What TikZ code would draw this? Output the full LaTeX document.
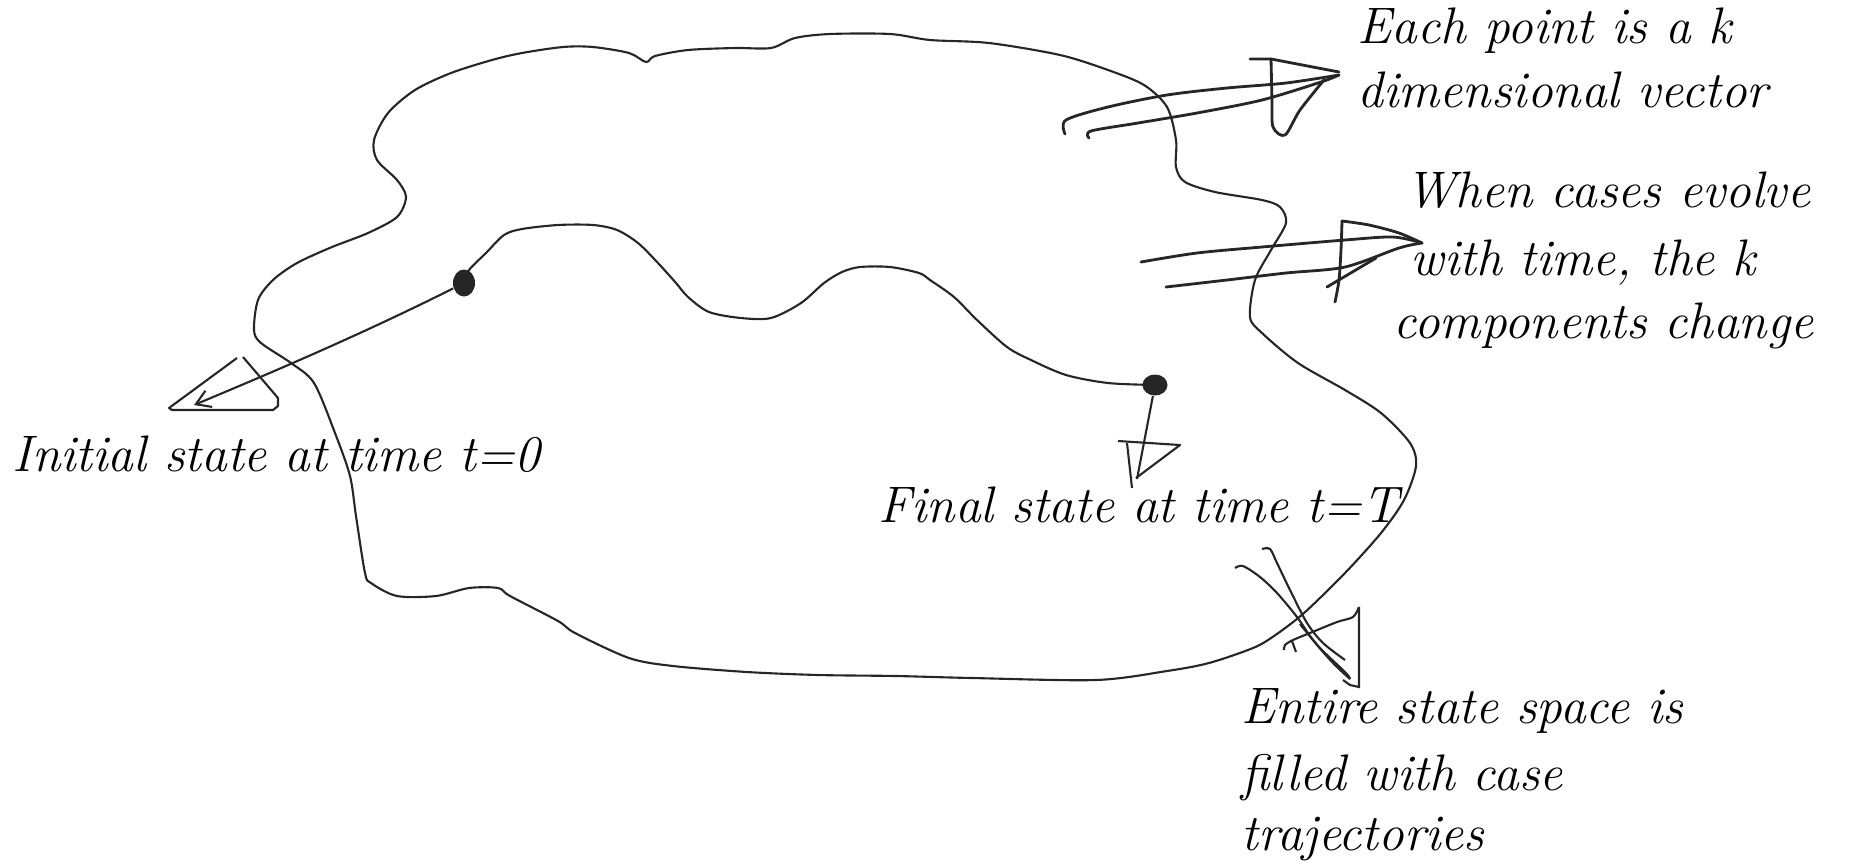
\documentclass[tikz,border=0pt]{standalone}
\usepackage{fontspec}
\usetikzlibrary{arrows.meta,shapes.geometric}
\tikzset{
  blob/.style={line width=0.6pt, draw=black!85},
  stroke/.style={line width=0.8pt, draw=black!85, line cap=round, line join=round},
  lbl/.style={anchor=base west, inner sep=0pt, font=\fontsize{14.6pt}{17pt}\selectfont\itshape},
  dotnode/.style={ellipse, fill=black!85, inner sep=0pt},
}
\begin{document}
\begin{tikzpicture}[x=0.01cm, y=-0.01cm]
\useasboundingbox (0,0) rectangle (1860,866);
% state space
\draw[blob] plot[smooth cycle, tension=0.5] coordinates {
 (646,62) (629,53) (593,47) (563,47) (522,53) (492,60) (451,73) (415,90)
 (388,113) (374,140) (377,160) (397,180) (406,197) (397,217) (368,233)
 (332,247) (297,263) (273,280) (258,300) (254,330) (261,343) (291,363)
 (314,383) (335,433) (350,476) (356,516) (365,573) (371,583) (397,596)
 (436,596) (469,588) (498,588) (510,596) (558,621) (575,633) (629,658)
 (673,666) (747,672) (818,675) (896,676) (972,678) (1096,680)
 (1167,671) (1209,663) (1253,648) (1274,636) (1304,613) (1345,573)
 (1381,533) (1404,500) (1416,466) (1410,443) (1381,413) (1345,390)
 (1298,363) (1262,333) (1250,317) (1255,280) (1271,250) (1286,223)
 (1280,207) (1262,200) (1215,192) (1185,182) (1176,167) (1176,140)
 (1167,107) (1144,85) (1108,70) (1060,55) (989,43) (930,40) (890,34)
 (830,34) (795,38) (771,48) (735,48) (688,50) (655,56)};
% states
\node[dotnode, minimum width=0.22cm, minimum height=0.27cm] (s0) at (464,283) {};
\node[dotnode, minimum width=0.25cm, minimum height=0.21cm] (sT) at (1155,385) {};
% trajectory
\draw[blob] plot[smooth, tension=0.5] coordinates {
 (s0) (469,270) (486,253) (504,235) (522,229) (558,225) (593,225) (617,230)
 (638,243) (658,263) (676,283) (688,297) (709,312) (741,318) (771,318)
 (801,303) (824,283) (842,272) (860,267) (890,267) (919,273) (930,280)
 (954,297) (977,320) (1007,347) (1031,360) (1066,375) (1108,383) (sT)};
% labels
\node[lbl] (l0) at (12,471) {Initial state at time t=0};
\node[lbl] (lT) at (878,522) {Final state at time t=T};
\node[lbl] (e1) at (1357,43) {Each point is a k};
\node[lbl] (e2) at (1357,107) {dimensional vector};
\node[lbl] (w1) at (1405,207) {When cases evolve};
\node[lbl] (w2) at (1410,275) {with time, the k};
\node[lbl] (w3) at (1393,338) {components change};
\node[lbl] (f1) at (1241,723) {Entire state space is};
\node[lbl] (f2) at (1241,790) {filled with case};
\node[lbl] (f3) at (1241,850) {trajectories};
% initial arrow
\coordinate (a0) at (194,405);
\draw[blob, -{Straight Barb[length=4pt,width=5pt]}] (s0) .. controls (374,328) and (297,362) .. (a0);
\draw[blob, line join=round] (237,358) -- (169,408) -- (172,410) -- (273,410) -- (278,406) -- (278,398) -- (243,357);
% final arrow
\coordinate (aT) at (1137,479);
\draw[blob] (sT) -- (aT);
\draw[blob, line join=round] (1118,441) -- (1180,445) -- (1136,478);
\draw[blob] (1127,443) -- (1132,488);
% arrow 1
\draw[stroke] plot[smooth] coordinates {(1065,134) (1066,120) (1108,107) (1167,95) (1227,88) (1286,83) (1339,75)};
\draw[stroke] plot[smooth] coordinates {(1089,138) (1091,131) (1138,123) (1197,113) (1262,100) (1321,82) (1339,75)};
\draw[stroke] (1250,59) -- (1271,59) -- (1339,72);
\draw[stroke] plot[smooth] coordinates {(1271,59) (1272,100) (1273,127) (1285,135) (1300,110) (1324,80)};
% arrow 2
\draw[stroke] plot[smooth] coordinates {(1141,262) (1197,253) (1262,247) (1345,240) (1393,237) (1422,243)};
\draw[stroke] plot[smooth] coordinates {(1166,287) (1227,280) (1286,273) (1345,267) (1399,248) (1422,243)};
\draw[stroke] plot[smooth] coordinates {(1342,221) (1369,225) (1399,233) (1422,243)};
\draw[stroke] plot[smooth] coordinates {(1342,221) (1341,250) (1339,280) (1335,302)};
\draw[stroke] (1327,287) -- (1376,258);
% arrow 3
\draw[blob] plot[smooth] coordinates {(1235,568) (1243,566) (1260,577) (1277,593) (1297,617) (1313,640) (1333,663) (1350,679)};
\draw[blob] plot[smooth] coordinates {(1262,549) (1270,549) (1277,563) (1290,590) (1307,623) (1323,643) (1345,660)};
\draw[blob] plot[smooth] coordinates {(1350,679) (1346,673) (1320,648) (1300,624)};
\draw[blob] (1359,607) -- (1359,687) -- (1350,685) -- (1343,680);
\draw[blob] plot[smooth] coordinates {(1359,607) (1353,617) (1337,622) (1310,633) (1293,640) (1285,645) (1284,650)};
\draw[blob] (1292,641) -- (1296,652);
\end{tikzpicture}
\end{document}
